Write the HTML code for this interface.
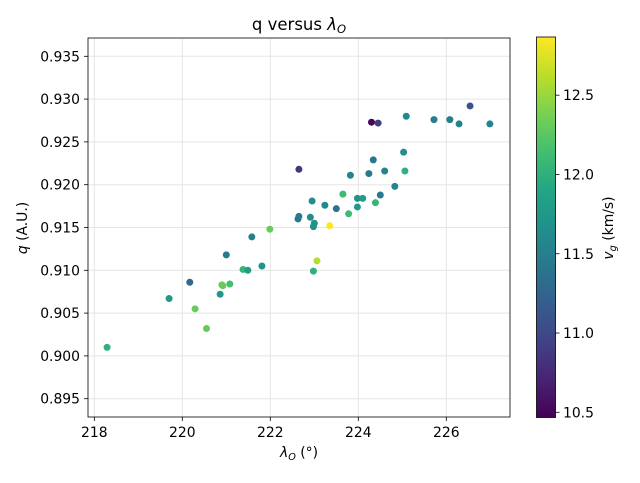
<!DOCTYPE html>
<html><head><meta charset="utf-8"><style>
body{margin:0;background:#fff;}
svg text{font-family:"DejaVu Sans","Liberation Sans",sans-serif;fill:#000;}
</style></head><body>
<svg id="chart" width="640" height="478" xmlns="http://www.w3.org/2000/svg">
<defs><linearGradient id="vir" x1="0" y1="1" x2="0" y2="0"></linearGradient></defs>
<text x="299" y="30" font-size="16.5" text-anchor="middle">q versus <tspan font-style="italic">λ</tspan><tspan font-style="italic" font-size="11.5" dy="3">O</tspan></text>
<g id="grid"></g><g id="pts"></g><g id="axes"></g>
<text x="299" y="457" font-size="13.9" text-anchor="middle"><tspan font-style="italic">λ</tspan><tspan font-style="italic" font-size="9.7" dy="3">O</tspan><tspan dy="-3"> (°)</tspan></text>
<text transform="translate(27,228) rotate(-90)" font-size="13.9" text-anchor="middle"><tspan font-style="italic">q</tspan> (A.U.)</text>
<rect x="536.5" y="37" width="19" height="380.5" fill="url(#vir)" stroke="#000" stroke-width="0.8"/>
<g id="cbticks"></g>
<text transform="translate(613,228) rotate(-90)" font-size="13.9" text-anchor="middle"><tspan font-style="italic">v</tspan><tspan font-style="italic" font-size="9.7" dy="3">g</tspan><tspan dy="-3"> (km/s)</tspan></text>
</svg>
<script>
const lambdaVals=[218.29,219.70,220.17,220.29,220.55,220.86,220.90,220.92,221.08,221.0,221.38,221.49,221.81,221.58,221.99,222.63,222.65,222.91,222.65,222.98,223.0,222.95,223.24,223.35,223.5,223.65,223.78,223.06,222.98,223.82,223.98,224.1,223.98,224.24,224.34,224.39,224.5,224.6,224.83,225.03,225.06,224.3,224.45,225.09,225.72,226.08,226.29,226.54,226.99];
const qVals=[0.9010,0.9067,0.9086,0.9055,0.9032,0.9072,0.9083,0.9082,0.9084,0.9118,0.9101,0.9100,0.9105,0.9139,0.9148,0.9160,0.9163,0.9162,0.9218,0.9151,0.9155,0.9181,0.9176,0.9152,0.9172,0.9189,0.9166,0.9111,0.9099,0.9211,0.9184,0.9184,0.9174,0.9213,0.9229,0.9179,0.9188,0.9216,0.9198,0.9238,0.9216,0.9273,0.9272,0.9280,0.9276,0.9276,0.9271,0.9292,0.9271];
const vgVals=[12.0,11.75,11.3,12.3,12.3,11.75,12.3,12.3,12.15,11.45,12.05,11.8,11.7,11.5,12.3,11.4,11.45,11.65,10.85,11.7,11.7,11.65,11.6,12.86,11.4,12.1,12.1,12.6,12.0,11.55,11.7,11.8,11.75,11.45,11.4,12.05,11.45,11.55,11.55,11.65,12.0,10.5,10.9,11.6,11.5,11.5,11.55,11.1,11.55];
const xTicks=[218,220,222,224,226];
const yTicks=[0.895,0.900,0.905,0.910,0.915,0.920,0.925,0.930,0.935];
const cTicks=[10.5,11.0,11.5,12.0,12.5];
const L=88,R=510,T=38,B=417;
const xs=v=>182.3+(v-220)*44;
const ys=v=>270.3-(v-0.910)*8560;
const cmin=10.466,cmax=12.867;
const cs=v=>417.7-(v-cmin)/(cmax-cmin)*380.7;
const vir=[[68,1,84],[72,35,116],[64,67,135],[52,94,141],[41,120,142],[32,144,140],[34,167,132],[68,190,112],[121,209,81],[189,222,38],[253,231,37]];
function col(v){let t=Math.max(0,Math.min(1,(v-cmin)/(cmax-cmin)))*10;let i=Math.min(9,Math.floor(t)),f=t-i;const a=vir[i],b=vir[i+1];return `rgb(${a.map((c,k)=>Math.round(c+(b[k]-c)*f)).join(',')})`;}
const NS='http://www.w3.org/2000/svg';
function mk(tag,attrs,parent){const e=document.createElementNS(NS,tag);for(const k in attrs)e.setAttribute(k,attrs[k]);parent.appendChild(e);return e;}
const grid=document.getElementById('grid'),pts=document.getElementById('pts'),axes=document.getElementById('axes'),cb=document.getElementById('cbticks');
const grad=document.getElementById('vir');
vir.forEach((c,i)=>{mk('stop',{offset:(i*10)+'%','stop-color':`rgb(${c.join(',')})`},grad);});
xTicks.forEach(v=>{const x=xs(v);
 const g=mk('line',{x1:x,x2:x,y1:T,y2:B,stroke:'#e5e5e5','stroke-width':1},grid);
 
 mk('line',{x1:x,x2:x,y1:B,y2:B+4,stroke:'#000','stroke-width':0.8},axes);
 const t=mk('text',{x:x,y:B+20,'font-size':13.9,'text-anchor':'middle'},axes);t.textContent=v;
 });
yTicks.forEach(v=>{const y=ys(v);
 const g=mk('line',{x1:L,x2:R,y1:y,y2:y,stroke:'#e5e5e5','stroke-width':1},grid);
 
 mk('line',{x1:L-4,x2:L,y1:y,y2:y,stroke:'#000','stroke-width':0.8},axes);
 const t=mk('text',{x:L-8,y:y+5,'font-size':13.9,'text-anchor':'end'},axes);t.textContent=v.toFixed(3);
 });
const fr=mk('rect',{x:L,y:T,width:R-L,height:B-T,fill:'none',stroke:'#000','stroke-width':0.8},axes);

lambdaVals.forEach((lv,i)=>{const c=mk('circle',{cx:xs(lv),cy:ys(qVals[i]),r:3.5,fill:col(vgVals[i])},pts);
 });
cTicks.forEach(v=>{const y=cs(v);
 mk('line',{x1:555.5,x2:559.5,y1:y,y2:y,stroke:'#000','stroke-width':0.8},cb);
 const t=mk('text',{x:563,y:y+5,'font-size':13.9},cb);t.textContent=v.toFixed(1);
 });
</script>
</body></html>
